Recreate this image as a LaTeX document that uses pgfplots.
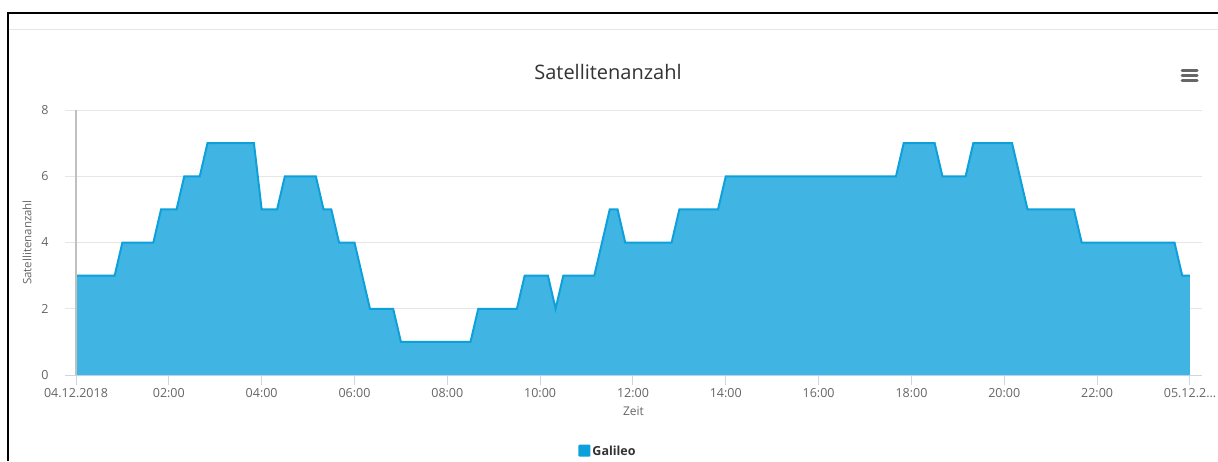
\documentclass[border=0pt]{standalone}
\usepackage{pgfplots}
\usepackage{pgfplotstable}
\pgfplotsset{compat=1.18}
\usepackage{fontspec}
\setmainfont{Open Sans}
\definecolor{lineblue}{RGB}{14,160,218}
\definecolor{fillblue}{RGB}{64,181,227}
\definecolor{gridgray}{RGB}{230,230,230}
\definecolor{axisblue}{RGB}{204,214,235}
\definecolor{labelgray}{RGB}{102,102,102}
\definecolor{titlegray}{RGB}{51,51,51}
\definecolor{yaxisgray}{RGB}{192,192,192}

\pgfplotstableread{
h v
0 3
0.833 3
1.0 4
1.667 4
1.833 5
2.167 5
2.333 6
2.667 6
2.833 7
3.833 7
4.0 5
4.333 5
4.5 6
5.167 6
5.333 5
5.5 5
5.667 4
6.0 4
6.333 2
6.833 2
7.0 1
8.5 1
8.667 2
9.5 2
9.667 3
10.167 3
10.333 2
10.5 3
11.167 3
11.5 5
11.667 5
11.833 4
12.833 4
13.0 5
13.833 5
14.0 6
17.667 6
17.833 7
18.5 7
18.667 6
19.167 6
19.333 7
20.167 7
20.5 5
21.5 5
21.667 4
23.667 4
23.833 3
24.0 3
}\sat

\begin{document}
\begin{tikzpicture}
\path[use as bounding box] (0,0) rectangle (1218pt,461pt);
\fill[white] (0,0) rectangle (1218pt,461pt);
\draw[line width=2pt] (8pt,0) -- (8pt,448pt) -- (1218pt,448pt);
\draw[gridgray, line width=1pt] (9pt,431pt) -- (1218pt,431pt);
\node[font=\fontsize{20}{24}\selectfont, text=titlegray] at (608pt,389pt) {Satellitenanzahl};
\foreach \yy in {390.7,385.3,380} {
  \draw[labelgray, line width=3pt, line cap=round] (1182pt,\yy pt) -- (1197pt,\yy pt);
}
\begin{axis}[
  at={(65pt,86pt)}, anchor=south west, scale only axis,
  width=1137pt, height=265pt,
  xmin=-0.237, xmax=24.26, ymin=0, ymax=8,
  axis x line*=bottom, axis y line*=left,
  x axis line style={draw=axisblue, line width=1pt, -},
  y axis line style={draw=none},
  xtick={0,2,4,6,8,10,12,14,16,18,20,22,24},
  xticklabels={04.12.2018,02:00,04:00,06:00,08:00,10:00,12:00,14:00,16:00,18:00,20:00,22:00,05.12.2\ldots},
  ytick={0,2,4,6,8},
  ymajorgrids, grid style={gridgray, line width=1pt},
  tick align=outside,
  major tick length=10pt,
  xtick style={draw=axisblue, line width=1pt},
  ytick style={draw=none},
  tick label style={font=\fontsize{12.5}{15}\selectfont, text=labelgray},
  /pgf/number format/assume math mode=true,
  yticklabel style={anchor=east, xshift=-3pt},
  xticklabel style={anchor=north, yshift=0pt},
  every axis x label/.style={at={(axis description cs:0.5,-0.1358)}, anchor=center, font=\fontsize{12}{14}\selectfont, text=labelgray},
  every axis y label/.style={at={(axis description cs:-0.0334,0.5)}, anchor=center, rotate=90, font=\fontsize{11.5}{14}\selectfont, text=labelgray},
  xlabel={Zeit}, ylabel={Satellitenanzahl},
  legend style={at={(axis description cs:0.4776,-0.287)}, anchor=center, draw=none, fill=none, font=\fontsize{12.5}{15}\selectfont\bfseries, text=titlegray, inner sep=0pt},
  legend image code/.code={\fill[lineblue, rounded corners=1pt] (-3pt,-5.5pt) rectangle (9pt,6.5pt);},
  clip=false,
]
\addplot[fill=fillblue, draw=none] table[x=h, y=v] {\sat} \closedcycle;
\addlegendentry{Galileo}
\addplot[lineblue, line width=2pt, forget plot] table[x=h, y=v] {\sat};
\draw[yaxisgray, line width=2pt] (axis cs:0,0) -- (axis cs:0,8);
\end{axis}
\end{tikzpicture}
\end{document}
